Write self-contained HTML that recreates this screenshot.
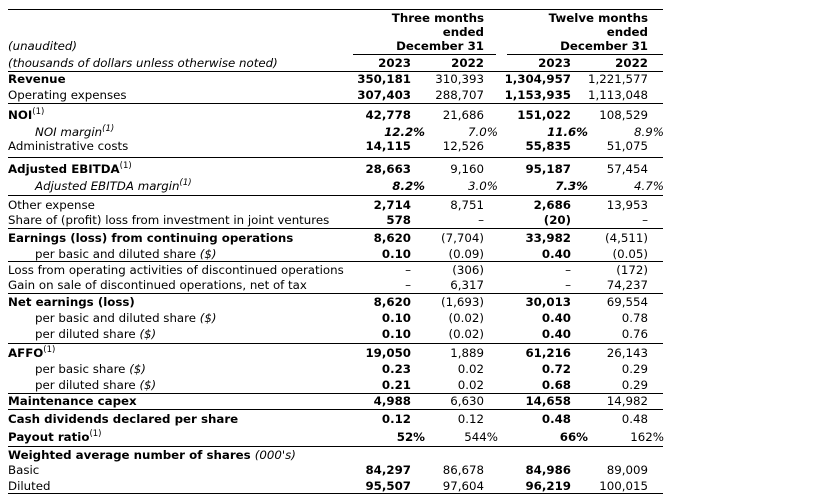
<!DOCTYPE html>
<html><head><meta charset="utf-8"><style>
body{margin:0;width:821px;height:499px;background:#fff;position:relative;overflow:hidden;font-family:"DejaVu Sans","Liberation Sans",sans-serif;font-size:11.8px;color:#000;letter-spacing:0}
.r{position:absolute;left:0;width:821px;height:14px;line-height:14px}
.r span{position:absolute;white-space:nowrap}
.l{left:8px}.i{left:35px}
.a{right:410px}.b{right:337px}.c{right:250px}.d{right:173px}
.pa{right:396px}.pb{right:323px}.pc{right:233px}.pd{right:157px}
.B{font-weight:bold}.I{font-style:italic}
sup{font-size:8.5px;vertical-align:5px;line-height:0;font-weight:normal}
.h{position:absolute;height:1px;background:#000}
.hd{position:absolute;font-weight:bold;text-align:right;line-height:14px}
</style></head><body>
<div class="h" style="left:8px;width:655px;top:9px"></div>
<div class="hd" style="right:337px;top:11px;width:200px">Three months<br>ended<br>December 31</div>
<div class="hd" style="right:173px;top:11px;width:200px">Twelve months<br>ended<br>December 31</div>
<div class="h" style="left:353px;width:143px;top:54px"></div>
<div class="h" style="left:507px;width:156px;top:54px"></div>
<div class="r" style="top:39px"><span class="l I">(unaudited)</span></div>
<div class="r" style="top:56px"><span class="l I">(thousands of dollars unless otherwise noted)</span><span class="a B">2023</span><span class="b B">2022</span><span class="c B">2023</span><span class="d B">2022</span></div>
<div class="h" style="left:8px;width:655px;top:71px"></div>
<div class="r" style="top:72px"><span class="l B">Revenue</span><span class="a B">350,181</span><span class="b">310,393</span><span class="c B">1,304,957</span><span class="d">1,221,577</span></div>
<div class="r" style="top:88px"><span class="l">Operating expenses</span><span class="a B">307,403</span><span class="b">288,707</span><span class="c B">1,153,935</span><span class="d">1,113,048</span></div>
<div class="h" style="left:8px;width:655px;top:103px"></div>
<div class="r" style="top:108px"><span class="l B">NOI<sup>(1)</sup></span><span class="a B">42,778</span><span class="b">21,686</span><span class="c B">151,022</span><span class="d">108,529</span></div>
<div class="r" style="top:125px"><span class="i I">NOI margin<sup>(1)</sup></span><span class="pa B I">12.2%</span><span class="pb I">7.0%</span><span class="pc B I">11.6%</span><span class="pd I">8.9%</span></div>
<div class="r" style="top:139px"><span class="l">Administrative costs</span><span class="a B">14,115</span><span class="b">12,526</span><span class="c B">55,835</span><span class="d">51,075</span></div>
<div class="h" style="left:8px;width:655px;top:157px"></div>
<div class="r" style="top:162px"><span class="l B">Adjusted EBITDA<sup>(1)</sup></span><span class="a B">28,663</span><span class="b">9,160</span><span class="c B">95,187</span><span class="d">57,454</span></div>
<div class="r" style="top:179px"><span class="i I">Adjusted EBITDA margin<sup>(1)</sup></span><span class="pa B I">8.2%</span><span class="pb I">3.0%</span><span class="pc B I">7.3%</span><span class="pd I">4.7%</span></div>
<div class="h" style="left:8px;width:655px;top:195px"></div>
<div class="r" style="top:198px"><span class="l">Other expense</span><span class="a B">2,714</span><span class="b">8,751</span><span class="c B">2,686</span><span class="d">13,953</span></div>
<div class="r" style="top:213px"><span class="l">Share of (profit) loss from investment in joint ventures</span><span class="a B">578</span><span class="b">–</span><span class="c B">(20)</span><span class="d">–</span></div>
<div class="h" style="left:8px;width:655px;top:228px"></div>
<div class="r" style="top:231px"><span class="l B">Earnings (loss) from continuing operations</span><span class="a B">8,620</span><span class="b">(7,704)</span><span class="c B">33,982</span><span class="d">(4,511)</span></div>
<div class="r" style="top:247px"><span class="i">per basic and diluted share <i>($)</i></span><span class="a B">0.10</span><span class="b">(0.09)</span><span class="c B">0.40</span><span class="d">(0.05)</span></div>
<div class="h" style="left:8px;width:655px;top:261px"></div>
<div class="r" style="top:263px"><span class="l">Loss from operating activities of discontinued operations</span><span class="a">–</span><span class="b">(306)</span><span class="c">–</span><span class="d">(172)</span></div>
<div class="r" style="top:278px"><span class="l">Gain on sale of discontinued operations, net of tax</span><span class="a">–</span><span class="b">6,317</span><span class="c">–</span><span class="d">74,237</span></div>
<div class="h" style="left:8px;width:655px;top:293px"></div>
<div class="r" style="top:295px"><span class="l B">Net earnings (loss)</span><span class="a B">8,620</span><span class="b">(1,693)</span><span class="c B">30,013</span><span class="d">69,554</span></div>
<div class="r" style="top:311px"><span class="i">per basic and diluted share <i>($)</i></span><span class="a B">0.10</span><span class="b">(0.02)</span><span class="c B">0.40</span><span class="d">0.78</span></div>
<div class="r" style="top:327px"><span class="i">per diluted share <i>($)</i></span><span class="a B">0.10</span><span class="b">(0.02)</span><span class="c B">0.40</span><span class="d">0.76</span></div>
<div class="h" style="left:8px;width:655px;top:343px"></div>
<div class="r" style="top:346px"><span class="l B">AFFO<sup>(1)</sup></span><span class="a B">19,050</span><span class="b">1,889</span><span class="c B">61,216</span><span class="d">26,143</span></div>
<div class="r" style="top:362px"><span class="i">per basic share <i>($)</i></span><span class="a B">0.23</span><span class="b">0.02</span><span class="c B">0.72</span><span class="d">0.29</span></div>
<div class="r" style="top:378px"><span class="i">per diluted share <i>($)</i></span><span class="a B">0.21</span><span class="b">0.02</span><span class="c B">0.68</span><span class="d">0.29</span></div>
<div class="h" style="left:8px;width:655px;top:393px"></div>
<div class="r" style="top:394px"><span class="l B">Maintenance capex</span><span class="a B">4,988</span><span class="b">6,630</span><span class="c B">14,658</span><span class="d">14,982</span></div>
<div class="h" style="left:8px;width:655px;top:409px"></div>
<div class="r" style="top:412px"><span class="l B">Cash dividends declared per share</span><span class="a B">0.12</span><span class="b">0.12</span><span class="c B">0.48</span><span class="d">0.48</span></div>
<div class="r" style="top:430px"><span class="l B">Payout ratio<sup>(1)</sup></span><span class="pa B">52%</span><span class="pb">544%</span><span class="pc B">66%</span><span class="pd">162%</span></div>
<div class="h" style="left:8px;width:655px;top:446px"></div>
<div class="r" style="top:448px"><span class="l B">Weighted average number of shares <i style="font-weight:normal">(000's)</i></span></div>
<div class="r" style="top:463px"><span class="l">Basic</span><span class="a B">84,297</span><span class="b">86,678</span><span class="c B">84,986</span><span class="d">89,009</span></div>
<div class="r" style="top:479px"><span class="l">Diluted</span><span class="a B">95,507</span><span class="b">97,604</span><span class="c B">96,219</span><span class="d">100,015</span></div>
<div class="h" style="left:8px;width:655px;top:493px"></div>
</body></html>
